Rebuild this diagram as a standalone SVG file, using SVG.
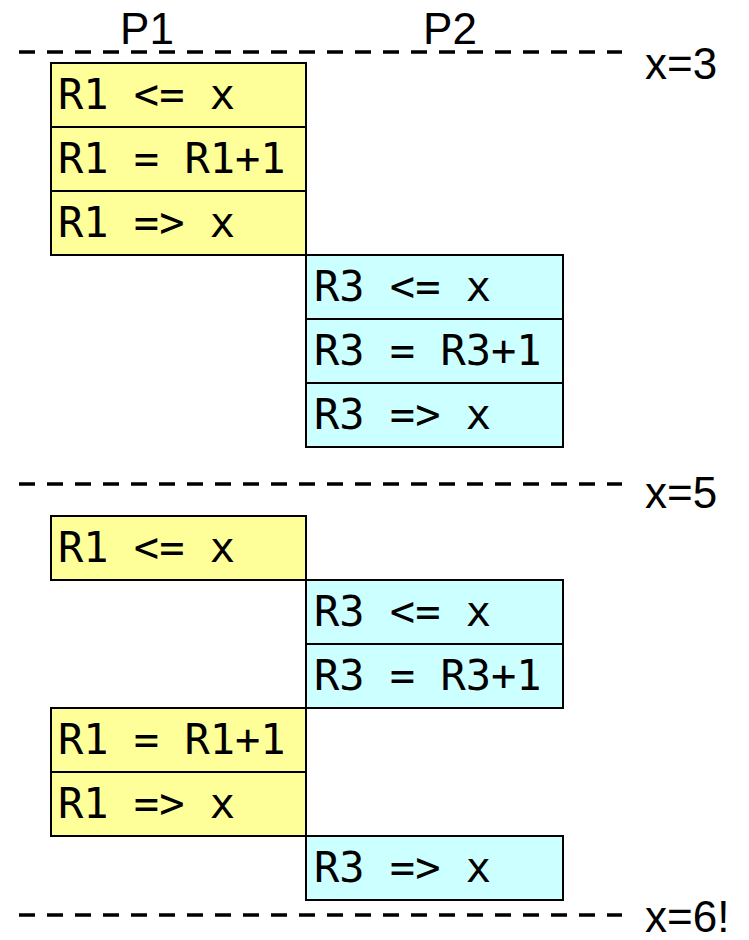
<svg xmlns="http://www.w3.org/2000/svg" width="749" height="940" viewBox="0 0 749 940">
<style>
.y{fill:#FFFF99;stroke:#000;stroke-width:2}
.c{fill:#CCFFFF;stroke:#000;stroke-width:2}
.t{font-family:"DejaVu Sans Mono","Liberation Mono",monospace;font-size:42px;fill:#000}
.h{font-family:"Liberation Sans",Arial,sans-serif;font-size:44px;fill:#000}
.d{stroke:#000;stroke-width:3.5;stroke-dasharray:16 12;fill:none}
</style>
<rect width="749" height="940" fill="#fff"/>
<g id="lines">
<line class="d" x1="19" y1="52" x2="622" y2="52"/>
<line class="d" x1="19" y1="484" x2="622" y2="484"/>
<line class="d" x1="19" y1="915" x2="622" y2="915"/>
</g>
<g id="labels">
<text class="h" x="147" y="44" text-anchor="middle">P1</text>
<text class="h" x="450" y="44" text-anchor="middle">P2</text>
<text class="h" x="645" y="79">x=3</text>
<text class="h" x="645" y="508">x=5</text>
<text class="h" x="645" y="932">x=6!</text>
</g>
<g id="p1-load-a"><rect class="y" x="51" y="63" width="255" height="64"/><text class="t" x="58" y="109">R1 &lt;= x</text></g>
<g id="p1-add-a"><rect class="y" x="51" y="127" width="255" height="64"/><text class="t" x="58" y="173">R1 = R1+1</text></g>
<g id="p1-store-a"><rect class="y" x="51" y="191" width="255" height="64"/><text class="t" x="58" y="237">R1 =&gt; x</text></g>
<g id="p2-load-a"><rect class="c" x="306" y="255" width="257" height="64"/><text class="t" x="314" y="301">R3 &lt;= x</text></g>
<g id="p2-add-a"><rect class="c" x="306" y="319" width="257" height="64"/><text class="t" x="314" y="365">R3 = R3+1</text></g>
<g id="p2-store-a"><rect class="c" x="306" y="383" width="257" height="64"/><text class="t" x="314" y="429">R3 =&gt; x</text></g>
<g id="p1-load-b"><rect class="y" x="51" y="516" width="255" height="64"/><text class="t" x="58" y="562">R1 &lt;= x</text></g>
<g id="p2-load-b"><rect class="c" x="306" y="580" width="257" height="64"/><text class="t" x="314" y="626">R3 &lt;= x</text></g>
<g id="p2-add-b"><rect class="c" x="306" y="644" width="257" height="64"/><text class="t" x="314" y="690">R3 = R3+1</text></g>
<g id="p1-add-b"><rect class="y" x="51" y="708" width="255" height="64"/><text class="t" x="58" y="754">R1 = R1+1</text></g>
<g id="p1-store-b"><rect class="y" x="51" y="772" width="255" height="64"/><text class="t" x="58" y="818">R1 =&gt; x</text></g>
<g id="p2-store-b"><rect class="c" x="306" y="836" width="257" height="64"/><text class="t" x="314" y="882">R3 =&gt; x</text></g>
</svg>
